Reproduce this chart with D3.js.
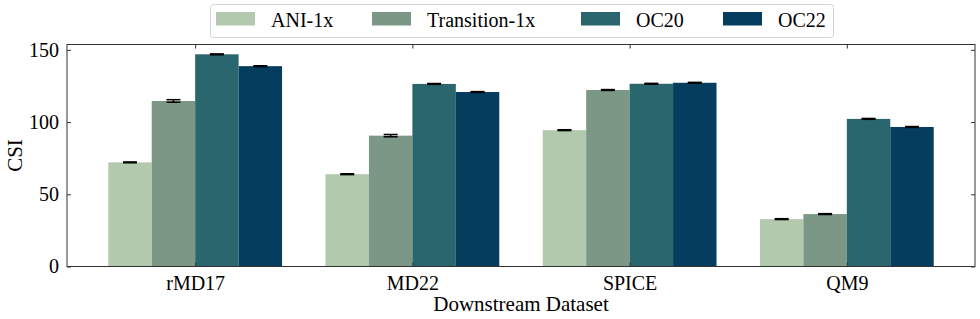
<!DOCTYPE html>
<html>
<head>
<meta charset="utf-8">
<script src="https://cdn.jsdelivr.net/npm/d3@7"></script>
<style>
  body { margin: 0; background: #fff; }
</style>
</head>
<body>
<div id="chart"></div>
<script>
// CSI per downstream dataset, one series per pre-training set
const datasets = ["rMD17", "MD22", "SPICE", "QM9"];
const seriesNames = ["ANI-1x", "Transition-1x", "OC20", "OC22"];
const seriesColors = ["#b3c9ad", "#7c9785", "#29666d", "#053d5f"];
const ani1x = [72.1, 63.9, 94.4, 32.8];
const transition1x = [114.6, 90.6, 122.2, 36.3];
const oc20 = [146.9, 126.4, 126.5, 102.2];
const oc22 = [138.7, 120.8, 127.2, 96.6];
const ani1xErr = [0.3, 0.3, 0.3, 0.3];
const transition1xErr = [0.9, 0.8, 0.3, 0.3];
const oc20Err = [0.3, 0.3, 0.3, 0.3];
const oc22Err = [0.3, 0.3, 0.3, 0.3];
const yTicks = [0, 50, 100, 150];

const values = [ani1x, transition1x, oc20, oc22];
const errors = [ani1xErr, transition1xErr, oc20Err, oc22Err];

const FONT = "'Liberation Serif', serif";
const width = 980, height = 319;
const margin = {top: 44.5, right: 5, bottom: 52.5, left: 67};
const innerW = width - margin.left - margin.right;
const innerH = height - margin.top - margin.bottom;

const svg = d3.select("#chart").append("svg")
    .attr("width", width)
    .attr("height", height)
    .style("font-family", FONT);

const g = svg.append("g")
    .attr("transform", `translate(${margin.left},${margin.top})`);

// matplotlib style: bar width 0.2, groups at 0..3, 5% margins
const x = d3.scaleLinear().domain([-0.59, 3.59]).range([0, innerW]);
const y = d3.scaleLinear().domain([0, 153.7]).range([innerH, 0]);
const barW = 0.2;

const rows = [];
values.forEach((vals, s) => {
    vals.forEach((v, i) => {
        rows.push({s, i, v, err: errors[s][i], pos: i + (s - 1.5) * barW});
    });
});

g.selectAll("rect.bar")
    .data(rows)
    .enter()
    .append("rect")
    .attr("class", "bar")
    .attr("x", d => x(d.pos - barW / 2))
    .attr("width", d => x(d.pos + barW / 2) - x(d.pos - barW / 2))
    .attr("y", d => y(d.v))
    .attr("height", d => y(0) - y(d.v))
    .attr("fill", d => seriesColors[d.s]);

// error bars
const capHalf = 7;
const eb = g.selectAll("g.err").data(rows).enter().append("g").attr("class", "err")
    .attr("stroke", "#000").attr("stroke-width", 1.5);
eb.append("line")
    .attr("x1", d => x(d.pos)).attr("x2", d => x(d.pos))
    .attr("y1", d => y(d.v - d.err)).attr("y2", d => y(d.v + d.err));
eb.append("line")
    .attr("x1", d => x(d.pos) - capHalf).attr("x2", d => x(d.pos) + capHalf)
    .attr("y1", d => y(d.v + d.err)).attr("y2", d => y(d.v + d.err));
eb.append("line")
    .attr("x1", d => x(d.pos) - capHalf).attr("x2", d => x(d.pos) + capHalf)
    .attr("y1", d => y(d.v - d.err)).attr("y2", d => y(d.v - d.err));

// axes with inward ticks on all sides
const tickLen = 4;
const yLeft = d3.axisLeft(y).tickValues(yTicks).tickSizeInner(-tickLen).tickSizeOuter(0).tickPadding(8);
const yRight = d3.axisRight(y).tickValues(yTicks).tickSizeInner(-tickLen).tickSizeOuter(0).tickFormat("");
const xBottom = d3.axisBottom(x).tickValues(d3.range(datasets.length))
    .tickFormat(i => datasets[i]).tickSizeInner(-tickLen).tickSizeOuter(0).tickPadding(9);
const xTop = d3.axisTop(x).tickValues(d3.range(datasets.length))
    .tickFormat("").tickSizeInner(-tickLen).tickSizeOuter(0);

const axG = [
    g.append("g").call(yLeft),
    g.append("g").attr("transform", `translate(${innerW},0)`).call(yRight),
    g.append("g").attr("transform", `translate(0,${innerH})`).call(xBottom),
    g.append("g").call(xTop)
];
axG.forEach(a => {
    a.attr("font-family", null).attr("font-size", null);
    a.select(".domain").remove();
    a.selectAll(".tick line").attr("stroke", "#333");
    a.selectAll("text").attr("fill", "#000")
        .style("font-family", FONT).style("font-size", "20px");
});

g.append("rect")
    .attr("width", innerW).attr("height", innerH)
    .attr("fill", "none").attr("stroke", "#333").attr("stroke-width", 1);

svg.append("text")
    .attr("transform", `translate(22,${margin.top + innerH / 2}) rotate(-90)`)
    .attr("text-anchor", "middle")
    .style("font-family", FONT)
    .style("font-size", "21px")
    .text("CSI");

svg.append("text")
    .attr("x", margin.left + innerW / 2)
    .attr("y", 311)
    .attr("text-anchor", "middle")
    .style("font-family", FONT)
    .style("font-size", "21px")
    .text("Downstream Dataset");

// legend
const legend = svg.append("g");
legend.append("rect")
    .attr("x", 210.5).attr("y", 4.5)
    .attr("width", 623).attr("height", 33)
    .attr("rx", 3)
    .attr("fill", "#fff").attr("stroke", "#d4d4d4");
const legendX = [216, 372, 581, 723];
const items = legend.selectAll("g.item").data(seriesNames).enter().append("g")
    .attr("transform", (d, i) => `translate(${legendX[i]},0)`);
items.append("rect")
    .attr("x", 0).attr("y", 12).attr("width", 39).attr("height", 13.5)
    .attr("fill", (d, i) => seriesColors[i]);
items.append("text")
    .attr("x", 55).attr("y", 27)
    .style("font-family", FONT)
    .style("font-size", "20px")
    .text(d => d);
</script>
</body>
</html>
